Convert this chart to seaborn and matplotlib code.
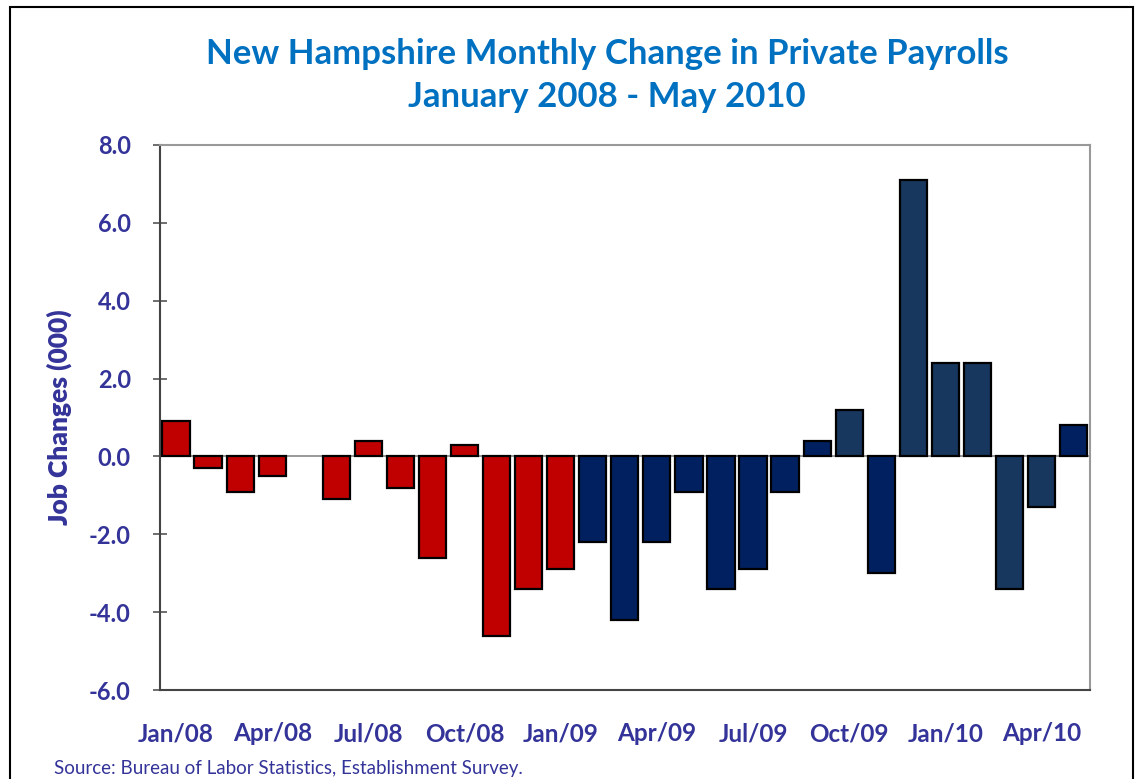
import pandas as pd
import seaborn as sns
import matplotlib.pyplot as plt
from matplotlib.patches import Rectangle

# monthly change in NH private payrolls (thousands), Jan 2008 - May 2010
months = ["Jan/08", "Feb/08", "Mar/08", "Apr/08", "May/08", "Jun/08", "Jul/08", "Aug/08",
          "Sep/08", "Oct/08", "Nov/08", "Dec/08", "Jan/09", "Feb/09", "Mar/09", "Apr/09",
          "May/09", "Jun/09", "Jul/09", "Aug/09", "Sep/09", "Oct/09", "Nov/09", "Dec/09",
          "Jan/10", "Feb/10", "Mar/10", "Apr/10", "May/10"]
changes = [0.9, -0.3, -0.9, -0.5, 0.0, -1.1, 0.4, -0.8, -2.6, 0.3, -4.6, -3.4, -2.9,
           -2.2, -4.2, -2.2, -0.9, -3.4, -2.9, -0.9, 0.4, 1.2, -3.0, 7.1, 2.4, 2.4,
           -3.4, -1.3, 0.8]
# bar colour group per month
groups = ["r"] * 13 + ["n"] * 8 + ["s", "n", "s", "s", "s", "s", "s", "n"]
tick_labels = ["Jan/08", "Apr/08", "Jul/08", "Oct/08", "Jan/09", "Apr/09",
               "Jul/09", "Oct/09", "Jan/10", "Apr/10"]
y_ticks = [-6, -4, -2, 0, 2, 4, 6, 8]

group_colors = {"r": "#C00000", "n": "#002060", "s": "#17375E"}
navy_text = "#333399"

df = pd.DataFrame({"month": months, "change": changes})
palette = {m: group_colors[g] for m, g in zip(months, groups)}

sns.set_style("white")
plt.rcParams["font.family"] = ["Lato", "DejaVu Sans"]

fig = plt.figure(figsize=(11.35, 7.79), dpi=100)
ax = fig.add_axes([0.141, 0.114, 0.819, 0.700])

sns.barplot(data=df, x="month", y="change", hue="month", palette=palette,
            legend=False, width=0.85, edgecolor="black", linewidth=1.6,
            saturation=1, ax=ax)

# a zero-height bar shows no outline in the original
for p in ax.patches:
    if p.get_height() == 0:
        p.set_visible(False)

ax.axhline(0, color="#888888", lw=1.2, zorder=0)
ax.set_ylim(-6, 8)
ax.set_xlim(-0.5, len(months) - 0.5)

ax.set_yticks(y_ticks)
ax.set_yticklabels([f"{v:.1f}" for v in y_ticks], color=navy_text,
                   fontweight="bold", fontsize=17)
ax.set_xticks(range(0, len(months), 3))
ax.set_xticklabels(tick_labels, color=navy_text, fontweight="bold", fontsize=17.5)
ax.tick_params(axis="y", direction="inout", length=10, width=1.2,
               color="#555555", pad=16, left=True)
ax.tick_params(axis="x", length=0, pad=23)

ax.set_xlabel("")
ax.set_ylabel("Job Changes (000)", color=navy_text, fontweight="heavy",
              fontsize=19, labelpad=12)

for side in ["top", "right"]:
    ax.spines[side].set_color("#999999")
    ax.spines[side].set_linewidth(1.5)
for side in ["left", "bottom"]:
    ax.spines[side].set_color("#444444")
    ax.spines[side].set_linewidth(1.5)

fig.text(0.535, 0.903, "New Hampshire Monthly Change in Private Payrolls\nJanuary 2008 - May 2010",
         ha="center", va="center", color="#0070C0", fontweight="bold",
         fontsize=25, linespacing=1.45)
fig.text(0.048, 0.014, "Source: Bureau of Labor Statistics, Establishment Survey.",
         color=navy_text, fontsize=13.5, ha="left", va="center")

# outer chart border
fig.patches.append(Rectangle((0.009, -0.05), 0.989, 1.041, transform=fig.transFigure,
                             fill=False, edgecolor="black", linewidth=1.5))

fig.savefig("out.png", dpi=100)
